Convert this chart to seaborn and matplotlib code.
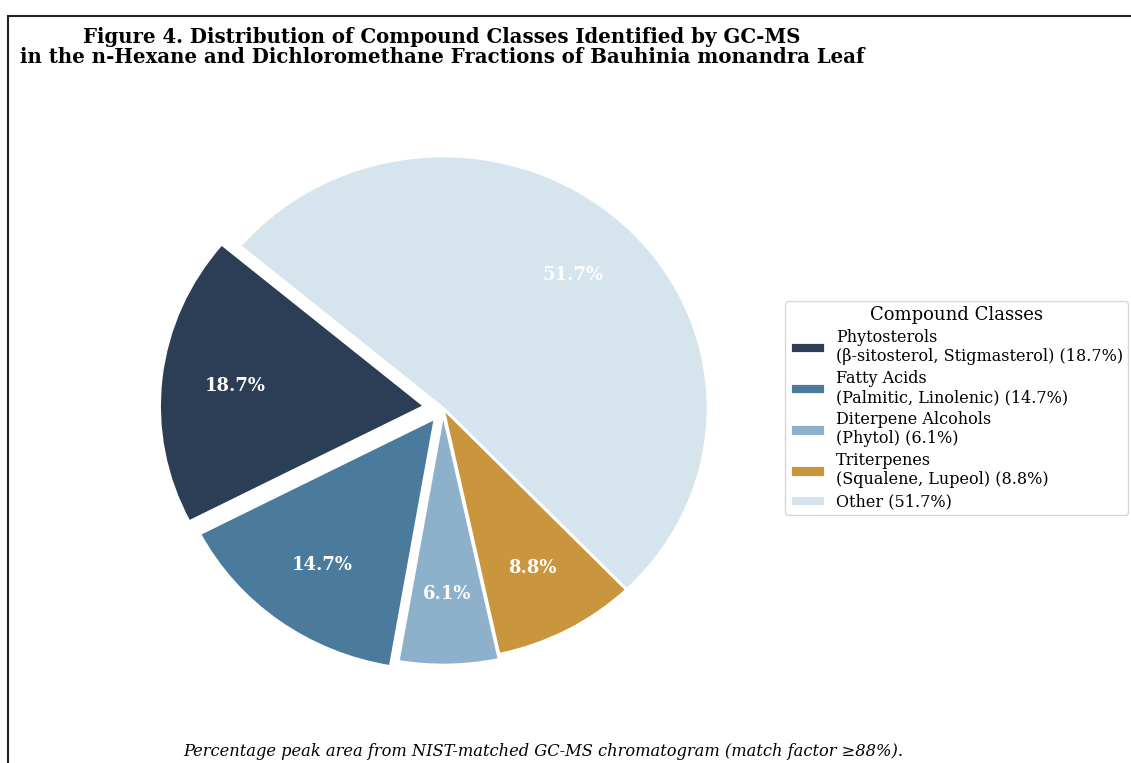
import matplotlib
matplotlib.use("Agg")
import matplotlib.pyplot as plt
from matplotlib.patches import Rectangle
import seaborn as sns

# Compound classes and their share of total peak area (%)
classes = [
    "Phytosterols\n(\u03b2-sitosterol, Stigmasterol)",
    "Fatty Acids\n(Palmitic, Linolenic)",
    "Diterpene Alcohols\n(Phytol)",
    "Triterpenes\n(Squalene, Lupeol)",
    "Other",
]
shares = [18.7, 14.7, 6.1, 8.8, 51.7]
colors = ["#2c3e56", "#4a7b9c", "#8db1cb", "#c9953d", "#d6e4ee"]
explode = [0.07, 0.05, 0.02, 0.0, 0.0]

sns.set_theme(style="white")
plt.rcParams["font.family"] = ["DejaVu Serif", "DejaVu Sans"]
plt.rcParams["text.color"] = "black"

W, H = 1131, 763
fig = plt.figure(figsize=(W / 100, H / 100), dpi=100)

# pie axes placed around centre (443, 408) px
rx, ry = 265, 252
cx, cy = 443, H - 408
lim = 1.2
ax = fig.add_axes([(cx - lim * rx) / W, (cy - lim * ry) / H,
                   2 * lim * rx / W, 2 * lim * ry / H])

palette = sns.color_palette(colors)
wedges, texts, autotexts = ax.pie(
    shares,
    colors=palette,
    explode=explode,
    startangle=140,
    counterclock=True,
    autopct="%1.1f%%",
    pctdistance=0.72,
    wedgeprops=dict(edgecolor="white", linewidth=2),
    textprops=dict(color="white", fontsize=13, fontweight="bold"),
)
ax.set_aspect("auto")
ax.set_xlim(-lim, lim)
ax.set_ylim(-lim, lim)
ax.axis("off")

legend_labels = [f"{c} ({s}%)" for c, s in zip(classes, shares)]
leg = fig.legend(
    wedges, legend_labels,
    title="Compound Classes",
    loc="center left",
    bbox_to_anchor=(785 / W, 1 - 408 / H),
    borderaxespad=0,
    fontsize=11.5,
    title_fontsize=13,
    frameon=True,
    edgecolor="#cccccc",
    handlelength=2.2,
    handletextpad=0.7,
    labelspacing=0.28,
    borderpad=0.3,
)

fig.text(442 / W, 1 - 47 / H,
         "Figure 4. Distribution of Compound Classes Identified by GC-MS\n"
         "in the n-Hexane and Dichloromethane Fractions of Bauhinia monandra Leaf",
         ha="center", va="center", fontsize=14.2, fontweight="bold",
         linespacing=1.05)

fig.text(543 / W, 1 - 752 / H,
         "Percentage peak area from NIST-matched GC-MS chromatogram (match factor \u226588%).",
         ha="center", va="center", fontsize=11.7, style="italic")

# outer frame
fig.add_artist(Rectangle((8 / W, -0.5), 2.0, (1 - 16 / H) + 0.5,
                         transform=fig.transFigure, fill=False,
                         edgecolor="#222222", linewidth=1.5, clip_on=False))

fig.savefig("out.png", dpi=100)
